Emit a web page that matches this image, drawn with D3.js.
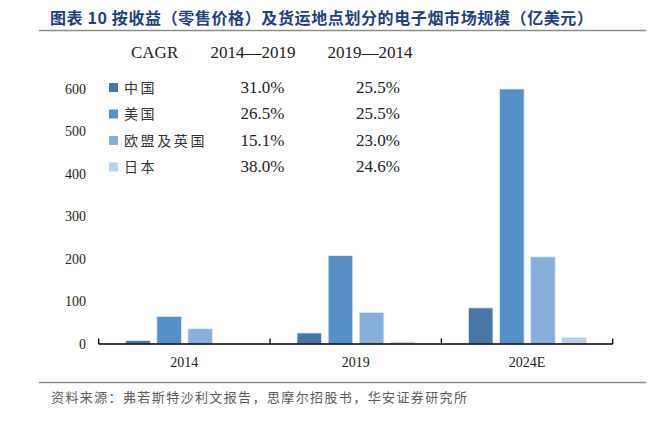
<!DOCTYPE html>
<html>
<head>
<meta charset="utf-8">
<script src="https://cdn.jsdelivr.net/npm/d3@7"></script>
<style>
  body { margin: 0; background: #fff; }
  .cjk { font-family: "Noto Sans CJK SC", sans-serif; }
  .num { font-family: "Liberation Serif", serif; }
</style>
</head>
<body>
<div id="chart"></div>
<script>
// data
var categories = ["2014", "2019", "2024E"];
var seriesNames = ["中国", "美国", "欧盟及英国", "日本"];
var china = [8, 26, 85];
var usa = [65, 208, 600];
var euUk = [36, 74, 205];
var japan = [0, 5, 16];
var cagr1419 = ["31.0%", "26.5%", "15.1%", "38.0%"];
var cagr1924 = ["25.5%", "25.5%", "23.0%", "24.6%"];
var yTicks = [0, 100, 200, 300, 400, 500, 600];

var colors = ["#4675a6", "#5591c8", "#86afdc", "#b7cfea"];
var values = [china, usa, euUk, japan];

var width = 656, height = 427;

var svg = d3.select("#chart").append("svg")
  .attr("width", width)
  .attr("height", height);

// title + rules
svg.append("text")
  .attr("class", "cjk")
  .attr("x", 50).attr("y", 24)
  .attr("font-size", 16).attr("font-weight", "bold")
  .attr("fill", "#1f3f7f")
  .attr("textLength", 543).attr("lengthAdjust", "spacing")
  .text("图表 10 按收益（零售价格）及货运地点划分的电子烟市场规模（亿美元）");

svg.append("line")
  .attr("x1", 39).attr("x2", 646).attr("y1", 30.5).attr("y2", 30.5)
  .attr("stroke", "#8c8c8c").attr("stroke-width", 1.5);

svg.append("line")
  .attr("x1", 39).attr("x2", 646).attr("y1", 382.5).attr("y2", 382.5)
  .attr("stroke", "#8c8c8c").attr("stroke-width", 1.5);

svg.append("text")
  .attr("class", "cjk")
  .attr("x", 51).attr("y", 402)
  .attr("font-size", 13)
  .attr("fill", "#5e5a55")
  .attr("textLength", 416).attr("lengthAdjust", "spacing")
  .text("资料来源：弗若斯特沙利文报告，思摩尔招股书，华安证券研究所");

// scales
var x0 = d3.scaleBand()
  .domain(categories)
  .range([98.7, 612.7])
  .paddingInner(0).paddingOuter(0);

var x1 = d3.scaleBand()
  .domain(seriesNames)
  .range([27, 145])
  .paddingInner(0.21).paddingOuter(0);

var y = d3.scaleLinear()
  .domain([0, 600])
  .range([344, 89]);

// y axis labels only
var yAxis = d3.axisLeft(y).tickValues(yTicks).tickSize(0).tickPadding(0);
var gy = svg.append("g")
  .attr("transform", "translate(86,0)")
  .call(yAxis);
gy.select(".domain").remove();
gy.selectAll("text")
  .attr("class", "num")
  .attr("font-size", 14)
  .attr("fill", "#222");

// bars
var groups = svg.append("g").selectAll("g")
  .data(categories)
  .enter().append("g")
  .attr("transform", function(d) { return "translate(" + x0(d) + ",0)"; });

groups.selectAll("rect")
  .data(function(d, i) {
    return seriesNames.map(function(s, j) { return { s: s, v: values[j][i], c: colors[j] }; });
  })
  .enter().append("rect")
  .attr("x", function(d) { return x1(d.s); })
  .attr("width", x1.bandwidth())
  .attr("y", function(d) { return y(d.v); })
  .attr("height", function(d) { return y(0) - y(d.v); })
  .attr("fill", function(d) { return d.c; })
  .attr("stroke", "#e4edf7")
  .attr("stroke-width", 0.8);

// x axis: line, upward ticks at band edges
var edges = categories.map(function(c) { return x0(c); }).concat([x0.range()[1]]);
var gx = svg.append("g");
gx.append("line")
  .attr("x1", x0.range()[0]).attr("x2", x0.range()[1])
  .attr("y1", 344).attr("y2", 344)
  .attr("stroke", "#000").attr("stroke-width", 1.5);
gx.selectAll(".tk")
  .data(edges)
  .enter().append("line")
  .attr("class", "tk")
  .attr("x1", function(d) { return d; }).attr("x2", function(d) { return d; })
  .attr("y1", 344).attr("y2", 338.5)
  .attr("stroke", "#000").attr("stroke-width", 1.3);
gx.selectAll(".lb")
  .data(categories)
  .enter().append("text")
  .attr("class", "num lb")
  .attr("x", function(d) { return x0(d) + x0.bandwidth() / 2; })
  .attr("y", 367)
  .attr("text-anchor", "middle")
  .attr("font-size", 14)
  .attr("fill", "#222")
  .text(function(d) { return d; });

// legend with CAGR table
var legend = svg.append("g");
legend.append("text")
  .attr("class", "num").attr("x", 131).attr("y", 58)
  .attr("font-size", 17).attr("fill", "#222").text("CAGR");
legend.append("text")
  .attr("class", "num").attr("x", 253).attr("y", 58)
  .attr("text-anchor", "middle")
  .attr("font-size", 17).attr("fill", "#222").text("2014—2019");
legend.append("text")
  .attr("class", "num").attr("x", 370).attr("y", 58)
  .attr("text-anchor", "middle")
  .attr("font-size", 17).attr("fill", "#222").text("2019—2014");

var rowY = d3.scalePoint().domain(seriesNames).range([87.5, 167]);

var rows = legend.selectAll(".row")
  .data(seriesNames)
  .enter().append("g")
  .attr("class", "row")
  .attr("transform", function(d) { return "translate(0," + rowY(d) + ")"; });

rows.append("rect")
  .attr("x", 109).attr("y", -4.5)
  .attr("width", 9).attr("height", 9)
  .attr("fill", function(d, i) { return colors[i]; });

rows.append("text")
  .attr("class", "cjk")
  .attr("x", 124).attr("y", 5)
  .attr("font-size", 14)
  .attr("letter-spacing", 2.6)
  .attr("fill", "#333")
  .text(function(d) { return d; });

rows.append("text")
  .attr("class", "num")
  .attr("x", 262.5).attr("y", 5)
  .attr("text-anchor", "middle")
  .attr("font-size", 17).attr("fill", "#222")
  .text(function(d, i) { return cagr1419[i]; });

rows.append("text")
  .attr("class", "num")
  .attr("x", 378).attr("y", 5)
  .attr("text-anchor", "middle")
  .attr("font-size", 17).attr("fill", "#222")
  .text(function(d, i) { return cagr1924[i]; });
</script>
</body>
</html>
